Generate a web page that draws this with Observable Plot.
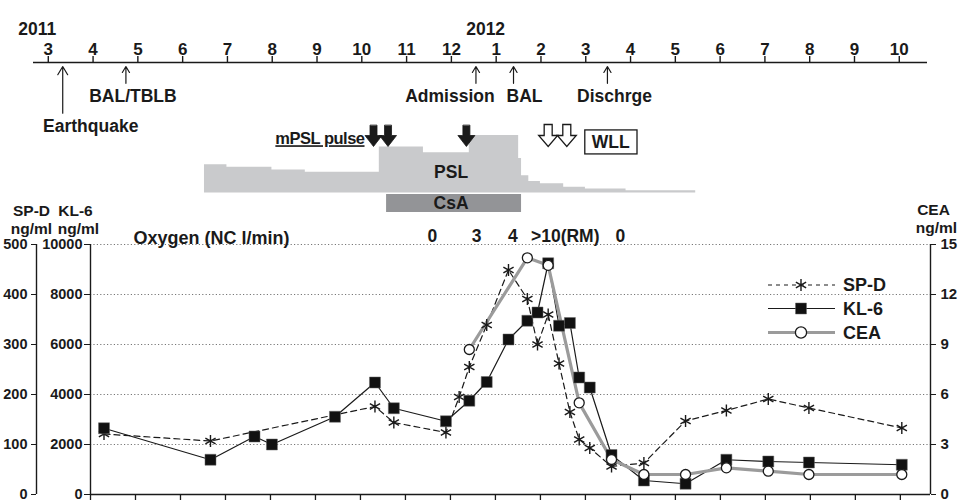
<!DOCTYPE html>
<html><head><meta charset="utf-8">
<script src="https://cdn.jsdelivr.net/npm/d3@7"></script>
<script src="https://cdn.jsdelivr.net/npm/@observablehq/plot@0.6"></script>
<style>
body{margin:0;background:#fff;}
#chart{position:relative;width:959px;height:502px;font-family:"Liberation Sans",Arial,Helvetica,sans-serif;}
#chart svg{position:absolute;left:0;overflow:visible;}
</style></head><body><div id="chart"></div>
<script>
// ---------- data ----------
const monthLabels = ["3","4","5","6","7","8","9","10","11","12","1","2","3","4","5","6","7","8","9","10"];
const yearLabels = ["2011","2012"];
const yearStarts = ["2011-03-01","2012-01-01"];

const eventLabels = ["Earthquake","BAL/TBLB","Admission","BAL","Dischrge"];
const eventDates  = ["2011-03-11","2011-04-23","2011-12-18","2012-01-13","2012-03-16"];

const pslDates = ["2011-06-17","2011-07-02","2011-08-02","2011-08-25","2011-10-14","2011-11-13","2011-12-14","2012-01-17","2012-01-19","2012-01-24","2012-02-01","2012-02-16","2012-03-01","2012-03-29","2012-05-15"];
const pslDose  = [24.5,22.5,20,18,40,35,50,30,15,10,8,5,3.5,2,0];
const csaPeriod = ["2011-10-19","2012-01-19"];
const mpslPulseDates = ["2011-10-10","2011-10-20","2011-12-12"];
const wllDates = ["2012-02-06","2012-02-18"];

const oxygenDates  = ["2011-11-19","2011-12-19","2012-01-13","2012-02-17","2012-03-25"];
const oxygenLabels = ["0","3","4",">10(RM)","0"];

const kl6Dates = ["2011-04-10","2011-06-21","2011-07-21","2011-08-02","2011-09-14","2011-10-11","2011-10-24","2011-11-28","2011-12-14","2011-12-26","2012-01-10","2012-01-23","2012-01-30","2012-02-06","2012-02-13","2012-02-20","2012-02-26","2012-03-04","2012-03-19","2012-04-10","2012-05-08","2012-06-05","2012-07-03","2012-07-31","2012-10-02"];
const kl6Values = [2650,1390,2320,2000,3110,4480,3450,2930,3750,4500,6200,6950,7280,9250,6750,6860,4680,4280,1580,560,430,1390,1320,1280,1190];

const spdDates = ["2011-04-10","2011-06-21","2011-10-11","2011-10-24","2011-11-28","2011-12-07","2011-12-14","2011-12-26","2012-01-10","2012-01-23","2012-01-30","2012-02-06","2012-02-13","2012-02-20","2012-02-26","2012-03-04","2012-03-19","2012-04-10","2012-05-08","2012-06-05","2012-07-03","2012-07-31","2012-10-02"];
const spdValues = [121,107,176,144,124,195,255,339,449,391,300,360,262,165,110,93,56,63,147,168,191,173,133];

const ceaDates = ["2011-12-14","2012-01-23","2012-02-06","2012-02-26","2012-03-19","2012-04-10","2012-05-08","2012-06-05","2012-07-03","2012-07-31","2012-10-02"];
const ceaValues = [8.7,14.2,13.75,5.5,2.1,1.2,1.2,1.6,1.4,1.2,1.2];

const kl6Ticks = [0,2000,4000,6000,8000,10000];
const spdPerKl6 = 500/10000;   // SP-D axis 0-500 against KL-6 0-10000
const ceaPerKl6 = 15/10000;    // CEA axis 0-15

// ---------- layout / style ----------
const W = 959;
const INK = "#1a1a1a";
const FONT = '"Liberation Sans", Arial, Helvetica, sans-serif';
const baseStyle = {background:"transparent", overflow:"visible", fontFamily:FONT, color:INK};
const eventLevel = [1.95,0.8,0.8,0.8,0.8];
const eventDx = [28,7,-26,11,7];
const xMax = 19.67;

// month index since March 2011
function mi(s){const [y,mo,d]=s.split("-").map(Number);const days=new Date(Date.UTC(y,mo,0)).getUTCDate();return (y-2011)*12+(mo-3)+(d-1)/days;}

const chart = document.getElementById("chart");
function place(svg, top){svg.style.top = top+"px"; chart.appendChild(svg); return svg;}
const bold = {fontWeight: "bold", fill: INK};

// ---------- 1. timeline ----------
const events = eventDates.map((d,i)=>({m:mi(d), label:eventLabels[i], level:eventLevel[i]}));
const years = yearLabels.map((y,i)=>({m:mi(yearStarts[i]), label:y}));
const months = monthLabels.map((l,i)=>({m:i, label:l}));
const timeline = Plot.plot({
  width: W, height: 140, marginTop: 62, marginBottom: 0, marginLeft: 33, marginRight: 32,
  x: {domain: [-0.33, 19.63], axis: null},
  y: {domain: [0, 3], range: [62, 140], axis: null},
  style: baseStyle,
  marks: [
    Plot.ruleY([0], {stroke: INK, strokeWidth: 1.4}),
    Plot.axisX(months.map(d => d.m), {anchor: "top", tickSize: 7, tickFormat: () => "", label: null, stroke: INK, strokeWidth: 1.4}),
    Plot.text(months, {x: "m", text: "label", frameAnchor: "top", dy: -20, fontSize: 17, ...bold}),
    Plot.text(years, {x: "m", text: "label", frameAnchor: "top", dy: -40, dx: -30, textAnchor: "start", fontSize: 17.5, ...bold}),
    Plot.arrow(events, {x: "m", y1: "level", y2: 0, insetEnd: 4, headLength: 12, headAngle: 62, stroke: INK, strokeWidth: 1.2}),
    ...events.map((e,i) => Plot.text([e], {x: "m", y: "level", dy: 13, dx: eventDx[i], text: "label", fontSize: 17.5, ...bold}))
  ]
});
place(timeline, 0);

// ---------- 2. steroid treatment ----------
const psl = pslDates.map((d,i)=>({m:mi(d), dose:pslDose[i]}));
const csaMid = (mi(csaPeriod[0]) + mi(csaPeriod[1]))/2;
function blockArrow(stem, head, headLen){
  return {draw(ctx, l){
    const b = -(l - headLen);
    ctx.moveTo(-stem/2, 0); ctx.lineTo(-stem/2, b); ctx.lineTo(-head/2, b);
    ctx.lineTo(0, -l); ctx.lineTo(head/2, b); ctx.lineTo(stem/2, b); ctx.lineTo(stem/2, 0); ctx.closePath();
  }};
}
const treat = Plot.plot({
  width: W, height: 100, marginTop: 17, marginBottom: 25.5, marginLeft: 90, marginRight: 29,
  x: {domain: [1, xMax], axis: null},
  y: {domain: [0, 50], axis: null},
  style: baseStyle,
  marks: [
    Plot.areaY(psl, {x: "m", y: "dose", curve: "step-after", fill: "#c9cacc"}),
    Plot.text(["PSL"], {x: csaMid, y: 17.8, dx: -3, fontSize: 17.5, ...bold}),
    Plot.vector(mpslPulseDates.map(mi), {x: d => d, frameAnchor: "top", dy: -10, anchor: "start", rotate: 180, length: 21, shape: blockArrow(7, 17, 11), fill: INK, stroke: INK, strokeWidth: 0.8}),
    Plot.text(["mPSL pulse"], {x: mi(mpslPulseDates[0]), frameAnchor: "top", dy: -3, dx: -9, textAnchor: "end", fontSize: 16.5, ...bold}),
    Plot.vector(wllDates.map(mi), {x: d => d, frameAnchor: "top", dy: -11, anchor: "start", rotate: 180, length: 22, shape: blockArrow(8, 19, 11), fill: "white", stroke: INK, strokeWidth: 1.3, strokeLinejoin: "miter"}),
    Plot.text(["WLL"], {x: mi(wllDates[wllDates.length-1]), frameAnchor: "top", dx: 25, textAnchor: "start", fontSize: 17.5, ...bold})
  ]
});
place(treat, 118);

const csaSvg = Plot.plot({
  width: W, height: 18, marginTop: 0, marginBottom: 0, marginLeft: 90, marginRight: 29,
  x: {domain: [1, xMax], axis: null},
  style: baseStyle,
  marks: [
    Plot.rect([csaPeriod], {x1: d => mi(d[0]), x2: d => mi(d[1]), fill: "#939497"}),
    Plot.text(["CsA"], {x: csaMid, frameAnchor: "middle", dx: -3, fontSize: 17.5, ...bold})
  ]
});
place(csaSvg, 194);

// ---------- 3. markers chart ----------
const kl6 = kl6Dates.map((d,i)=>({m:mi(d), y:kl6Values[i]}));
const spd = spdDates.map((d,i)=>({m:mi(d), y:spdValues[i]/spdPerKl6}));
const cea = ceaDates.map((d,i)=>({m:mi(d), y:ceaValues[i]/ceaPerKl6}));
const oxygen = oxygenDates.map((d,i)=>({m:mi(d), label:oxygenLabels[i]}));
const titleOpts = {fontSize: 15.5, textAnchor: "middle", ...bold};
const main = Plot.plot({
  width: W, height: 312, marginTop: 54, marginBottom: 8, marginLeft: 90, marginRight: 29,
  x: {domain: [1, xMax], axis: null},
  y: {domain: [0, 10000], axis: null},
  style: baseStyle,
  marks: [
    Plot.gridY(kl6Ticks.slice(1), {stroke: "#777", strokeOpacity: 1, strokeDasharray: "1.2,2.2", strokeWidth: 1}),
    Plot.ruleY([0], {stroke: INK, strokeWidth: 1.4}),
    Plot.ruleX([1], {y1: 0, y2: 10000, stroke: INK, strokeWidth: 1.4}),
    Plot.ruleX([1], {y1: 0, y2: 10000, dx: -54, stroke: INK, strokeWidth: 1.4}),
    Plot.ruleX([xMax], {y1: 0, y2: 10000, stroke: INK, strokeWidth: 1.4}),
    Plot.axisX(d3.range(1, 20), {anchor: "bottom", tickSize: 6, tickFormat: () => "", label: null, stroke: INK, strokeWidth: 1.3}),
    Plot.axisY(kl6Ticks, {anchor: "left", tickSize: 6, tickPadding: 2, tickFormat: d => String(d), fontSize: 14.5, fontWeight: "bold", label: null, stroke: INK}),
    Plot.axisY(kl6Ticks, {anchor: "left", dx: -54, tickSize: 5, tickPadding: 4, tickFormat: d => String(d*spdPerKl6), fontSize: 14.5, fontWeight: "bold", label: null, stroke: INK}),
    Plot.axisY(kl6Ticks, {anchor: "right", tickSize: 5, tickPadding: 5, tickFormat: d => String(Math.round(d*ceaPerKl6)), fontSize: 15, fontWeight: "bold", label: null, stroke: INK}),
    Plot.text(["SP-D"], {frameAnchor: "top-left", dx: -59, dy: -40, ...titleOpts}),
    Plot.text(["KL-6"], {frameAnchor: "top-left", dx: -15, dy: -40, ...titleOpts}),
    Plot.text(["ng/ml"], {frameAnchor: "top-left", dx: -59, dy: -22, ...titleOpts}),
    Plot.text(["ng/ml"], {frameAnchor: "top-left", dx: -12, dy: -22, ...titleOpts}),
    Plot.text(["CEA"], {frameAnchor: "top-right", dx: 3, dy: -41, ...titleOpts}),
    Plot.text(["ng/ml"], {frameAnchor: "top-right", dx: 6, dy: -23, ...titleOpts}),
    Plot.text(["Oxygen (NC l/min)"], {frameAnchor: "top-left", dx: 43, dy: -13, textAnchor: "start", fontSize: 18, ...bold}),
    Plot.text(oxygen, {x: "m", text: "label", frameAnchor: "top", dy: -15, fontSize: 17.5, ...bold}),
    Plot.line(spd, {x: "m", y: "y", stroke: INK, strokeWidth: 1.2, strokeDasharray: "6,4"}),
    Plot.line(kl6, {x: "m", y: "y", stroke: INK, strokeWidth: 1.2}),
    Plot.line(cea, {x: "m", y: "y", stroke: "#9b9b9b", strokeWidth: 3.2}),
    Plot.dot(spd, {x: "m", y: "y", symbol: "asterisk", r: 5.6, stroke: INK, strokeWidth: 1.4}),
    Plot.dot(kl6, {x: "m", y: "y", symbol: "square", r: 6.2, fill: "#111", stroke: "#666", strokeWidth: 0.5}),
    Plot.dot(cea, {x: "m", y: "y", r: 5, fill: "white", stroke: INK, strokeWidth: 1.3})
  ]
});
place(main, 190);

// ---------- legend ----------
const legend = d3.select(chart).append("svg").attr("width", 160).attr("height", 80)
  .style("left", "760px").style("top", "270px").style("font-family", FONT);
const legItems = [
  {label: "SP-D", y: 15, line: {stroke: INK, w: 1.2, dash: "4,4"}, sym: d3.symbolAsterisk, r: 5.6, fill: "none", stroke: INK, sw: 1.4},
  {label: "KL-6", y: 38.5, line: {stroke: INK, w: 1.2, dash: null}, sym: d3.symbolSquare, r: 6.2, fill: "#111", stroke: "#666", sw: 0.5},
  {label: "CEA", y: 62.5, line: {stroke: "#9b9b9b", w: 3.2, dash: null}, sym: d3.symbolCircle, r: 5.6, fill: "white", stroke: INK, sw: 1.3}
];
for (const it of legItems) {
  const g = legend.append("g").attr("transform", `translate(0,${it.y})`);
  g.append("line").attr("x1", 8).attr("x2", 75).attr("stroke", it.line.stroke).attr("stroke-width", it.line.w).attr("stroke-dasharray", it.line.dash);
  g.append("path").attr("transform", "translate(41,0)").attr("d", d3.symbol(it.sym, Math.PI*it.r*it.r)())
    .attr("fill", it.fill).attr("stroke", it.stroke).attr("stroke-width", it.sw);
  g.append("text").attr("x", 83).attr("dy", "0.35em").attr("font-size", 18).attr("font-weight", "bold").attr("fill", INK).text(it.label);
}

// ---------- decorations needing measured text ----------
const findText = (svg, s) => Array.from(svg.querySelectorAll("text")).find(t => t.textContent === s);
const mp = findText(treat, "mPSL pulse");
if (mp) { mp.setAttribute("text-decoration", "underline"); mp.style.textDecoration = "underline"; mp.style.letterSpacing = "-0.5px"; }
const wl = findText(treat, "WLL");
if (wl) {
  const sr = treat.getBoundingClientRect(), tr = wl.getBoundingClientRect();
  const rect = document.createElementNS("http://www.w3.org/2000/svg", "rect");
  rect.setAttribute("x", tr.left - sr.left - 7);
  rect.setAttribute("y", tr.top - sr.top - 2);
  rect.setAttribute("width", tr.width + 14);
  rect.setAttribute("height", tr.height + 4);
  rect.setAttribute("fill", "none");
  rect.setAttribute("stroke", INK);
  rect.setAttribute("stroke-width", 1.3);
  treat.appendChild(rect);
}
</script></body></html>
